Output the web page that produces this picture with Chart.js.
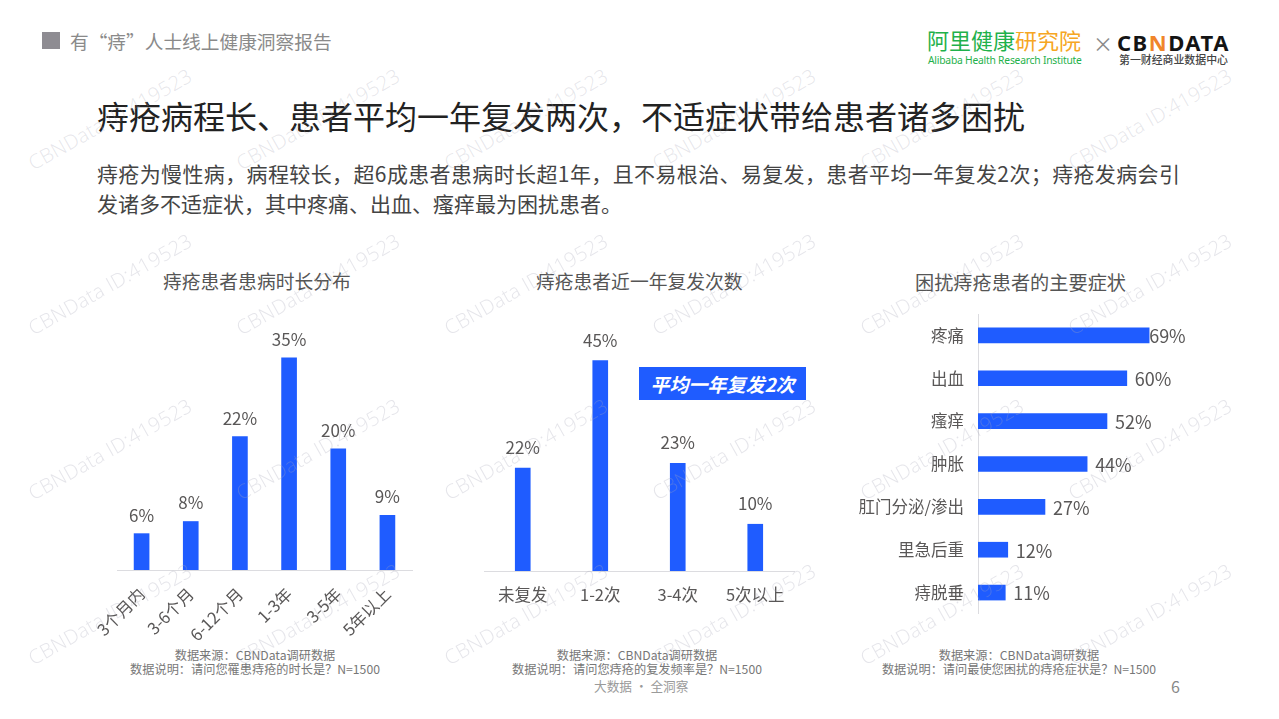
<!DOCTYPE html>
<html lang="zh"><head><meta charset="utf-8">
<script src="https://cdn.jsdelivr.net/npm/chart.js@4"></script>
<style>
html,body{margin:0;padding:0;background:#fff;width:1279px;height:719px;overflow:hidden;font-family:"Noto Sans CJK SC","Noto Sans",sans-serif}
.t{position:absolute;white-space:nowrap;line-height:1}
canvas{position:absolute}
.c{position:absolute}
.wm{position:absolute;white-space:nowrap;font:300 20px "Open Sans","Noto Sans",sans-serif;letter-spacing:.3px;color:rgba(170,170,185,.3);transform:translate(-50%,-50%) rotate(-29.5deg);pointer-events:none;z-index:5}
</style></head><body>
<div class="t" style="left:42px;top:32px;width:18px;height:17px;background:#8e8c92"></div>
<div class="t" style="left:70px;top:32px;font-size:18.7px;color:#8a8a8a">有“痔”人士线上健康洞察报告</div>

<div class="t" style="left:927px;top:28px;font-size:22px;color:#1fb14b">阿里健康<span style="color:#f6a623">研究院</span></div>
<div class="t" style="left:928px;top:55px;font-size:10.3px;letter-spacing:-.22px;color:#1fb14b;font-family:'Noto Sans'">Alibaba Health Research Institute</div>
<div class="t" style="left:1093px;top:34px;font-size:20px;color:#8a8a8a">×</div>
<div class="t" style="left:1117px;top:27px;font:700 22px 'Noto Sans';letter-spacing:1.5px;color:#141414">CB<span style="color:#f0852a">N</span>DATA</div>
<div class="t" style="left:1119px;top:54px;font-size:10.9px;color:#444;font-weight:500">第一财经商业数据中心</div>

<div class="t" style="left:97px;top:99px;font-size:32px;color:#222">痔疮病程长、患者平均一年复发两次，不适症状带给患者诸多困扰</div>
<div class="t" style="left:97px;top:161px;width:1083px;font-size:21px;line-height:24px;color:#444;white-space:normal;text-align:justify;text-align-last:justify">痔疮为慢性病，病程较长，超6成患者患病时长超1年，且不易根治、易复发，患者平均一年复发2次；痔疮发病会引</div>
<div class="t" style="left:97px;top:191px;font-size:21px;line-height:24px;color:#444">发诸多不适症状，其中疼痛、出血、瘙痒最为困扰患者。</div>

<div class="t" style="left:163px;top:272px;font-size:18.8px;color:#555">痔疮患者患病时长分布</div>
<div class="t" style="left:536px;top:272px;font-size:18.8px;color:#555">痔疮患者近一年复发次数</div>
<div class="t" style="left:915px;top:273px;font-size:19.2px;color:#555">困扰痔疮患者的主要症状</div>

<canvas id="a" class="c" style="left:87px;top:310px;width:345px;height:335px"></canvas>
<canvas id="b" class="c" style="left:464px;top:311px;width:350px;height:300px"></canvas>
<canvas id="d" class="c" style="left:838px;top:314px;width:392px;height:300px"></canvas>

<div class="t" style="left:639px;top:367px;width:167px;height:33px;background:#1f5cff;color:#fff;font-size:19px;font-weight:700;font-style:italic;line-height:33px;text-align:center;z-index:2">平均一年复发2次</div>

<div class="t" style="left:255px;top:648px;transform:translateX(-50%);font-size:12.2px;line-height:14px;color:#777;text-align:center">数据来源：CBNData调研数据<br>数据说明：请问您罹患痔疮的时长是？N=1500</div>
<div class="t" style="left:637px;top:648px;transform:translateX(-50%);font-size:12.2px;line-height:14px;color:#777;text-align:center">数据来源：CBNData调研数据<br>数据说明：请问您痔疮的复发频率是？N=1500</div>
<div class="t" style="left:1019px;top:648px;transform:translateX(-50%);font-size:12.2px;line-height:14px;color:#777;text-align:center">数据来源：CBNData调研数据<br>数据说明：请问最使您困扰的痔疮症状是？N=1500</div>
<div class="t" style="left:594px;top:680px;font-size:12.7px;color:#9a9a9a">大数据 · 全洞察</div>
<div class="t" style="left:1171px;top:678px;font-size:16px;color:#888">6</div>

<script>
const durationLabels = ["3个月内","3-6个月","6-12个月","1-3年","3-5年","5年以上"];
const durationValues = [6,8,22,35,20,9];
const relapseLabels = ["未复发","1-2次","3-4次","5次以上"];
const relapseValues = [22,45,23,10];
const symptomLabels = ["疼痛","出血","瘙痒","肿胀","肛门分泌/渗出","里急后重","痔脱垂"];
const symptomValues = [69,60,52,44,27,12,11];
const BLUE = "#1f5cff", TXT = "#595757", AXIS = "#dcdce0";
const FONT = '"Noto Sans CJK SC","Noto Sans",sans-serif';

const valueLabels = {
  id: "valueLabels",
  afterDatasetsDraw(chart) {
    const {ctx} = chart;
    const horizontal = chart.options.indexAxis === "y";
    const gap = chart.canvas.id === "b" ? 12 : 10;
    ctx.save();
    ctx.font = (horizontal ? 18 : 17) + "px " + FONT;
    ctx.fillStyle = TXT;
    chart.getDatasetMeta(0).data.forEach((el, i) => {
      const text = chart.data.datasets[0].data[i] + "%";
      if (horizontal) {
        ctx.textAlign = "left"; ctx.textBaseline = "middle";
        ctx.fillText(text, el.x + (text === "69%" ? 0 : 8), el.y + 1);
      } else {
        ctx.textAlign = "center"; ctx.textBaseline = "bottom";
        ctx.fillText(text, el.x, el.y - gap);
      }
    });
    ctx.restore();
  }
};
const base = {responsive:false, animation:false, maintainAspectRatio:false,
  plugins:{legend:{display:false},tooltip:{enabled:false}}};
function size(id){const c=document.getElementById(id);c.width=parseInt(c.style.width);c.height=parseInt(c.style.height);return c;}

new Chart(size("a"),{type:"bar",plugins:[valueLabels],
  data:{labels:durationLabels,datasets:[{data:durationValues,backgroundColor:BLUE,barThickness:15}]},
  options:{...base,layout:{padding:{left:30,right:20,top:0,bottom:0}},
    scales:{
      y:{display:false,min:0,max:42.9},
      x:{grid:{display:false},border:{color:AXIS},
        afterFit(s){s.height=75;s.paddingLeft=0;s.paddingRight=0;},
        ticks:{minRotation:45,maxRotation:45,padding:6,color:TXT,font:{size:16.5,family:FONT}}}
    }}});

new Chart(size("b"),{type:"bar",plugins:[valueLabels],
  data:{labels:relapseLabels,datasets:[{data:relapseValues,backgroundColor:BLUE,barThickness:15}]},
  options:{...base,layout:{padding:{left:20,right:20,top:0,bottom:0}},
    scales:{
      y:{display:false,min:0,max:55.6},
      x:{grid:{display:false},border:{color:AXIS},
        afterFit(s){s.height=40;s.paddingLeft=0;s.paddingRight=0;},
        ticks:{maxRotation:0,padding:6,color:TXT,font:{size:16.5,family:FONT}}}
    }}});

new Chart(size("d"),{type:"bar",plugins:[valueLabels],
  data:{labels:symptomLabels,datasets:[{data:symptomValues,backgroundColor:BLUE,barThickness:15}]},
  options:{...base,indexAxis:"y",layout:{padding:0},
    scales:{
      x:{display:false,min:0,max:101.6},
      y:{grid:{display:false},border:{color:AXIS},
        afterFit(s){s.width=140;s.paddingTop=0;s.paddingBottom=0;},
        ticks:{padding:6,color:TXT,font:{size:16.5,family:FONT}}}
    }}});

for(let j=0;j<4;j++)for(let i=0;i<6;i++){
  const w=document.createElement("div");w.className="wm";w.textContent="CBNData ID:419523";
  w.style.left=(110+208*i)+"px";w.style.top=(119+165*j)+"px";document.body.appendChild(w);
}
</script>
</body></html>
